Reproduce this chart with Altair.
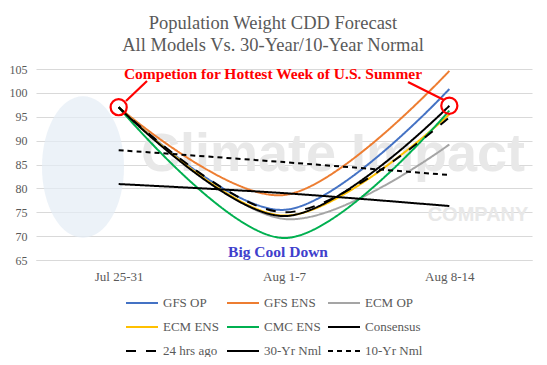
import altair as alt
import pandas as pd

weeks = ["Jul 25-31", "Aug 1-7", "Aug 8-14"]
series_names = ["GFS OP", "GFS ENS", "ECM OP", "ECM ENS", "CMC ENS",
                "Consensus", "24 hrs ago", "30-Yr Nml", "10-Yr Nml"]
gfs_op = [97.0, 75.5, 100.8]
gfs_ens = [97.0, 78.6, 104.6]
ecm_op = [97.0, 73.6, 89.2]
ecm_ens = [97.0, 74.3, 95.5]
cmc_ens = [97.0, 69.6, 96.3]
consensus = [97.0, 74.2, 97.3]
hrs_24 = [97.0, 75.0, 94.9]
nml_30 = [80.9, 79.0, 76.3]
nml_10 = [88.0, 85.5, 82.8]
y_ticks = [65, 70, 75, 80, 85, 90, 95, 100, 105]

values = [gfs_op, gfs_ens, ecm_op, ecm_ens, cmc_ens, consensus, hrs_24, nml_30, nml_10]
colors = ["#4472C4", "#ED7D31", "#A5A5A5", "#FFC000", "#00B050",
          "#000000", "#000000", "#000000", "#000000"]
widths = [2, 2, 3.5, 2, 2, 4.5, 4.5, 1.5, 1.5]
dashes = [[1, 0], [1, 0], [1, 0], [1, 0], [1, 0], [1, 0], [10, 10], [1, 0], [5, 4]]

rows = []
for name, vals in zip(series_names, values):
    for w, v in zip(weeks, vals):
        rows.append({"week": w, "series": name, "cdd": v})
df = pd.DataFrame(rows)

circle_df = pd.DataFrame({"week": [weeks[0], weeks[-1]],
                          "cdd": [consensus[0], consensus[-1]]})

W, H = 496, 191
SERIF = "Liberation Serif"
GREY = "#595959"

x_axis = alt.Axis(title=None, ticks=False, labelAngle=0, labelFont=SERIF,
                  labelFontSize=13, labelColor=GREY, labelPadding=10,
                  domainColor="#D9D9D9", grid=False)
y_axis = alt.Axis(title=None, values=y_ticks, ticks=False,
                  domain=False, labelFont=SERIF, labelFontSize=12,
                  labelColor=GREY, labelPadding=9, gridColor="#D9D9D9",
                  labelOverlap=False, tickCount=9)
x_scale = alt.Scale(type="point", padding=0.5)
y_scale = alt.Scale(domain=[65, 105], nice=False, zero=False)

legend = alt.Legend(orient="none", legendX=89, legendY=217, columns=3, title=None,
                    direction="horizontal",
                    symbolType="stroke", symbolSize=1024, labelFont=SERIF,
                    labelFontSize=13, labelColor=GREY, labelOffset=4,
                    columnPadding=2, rowPadding=-13, padding=0, gridAlign="all")

lines = alt.Chart(df).mark_line(interpolate="cardinal", tension=0).encode(
    x=alt.X("week:N", sort=weeks, scale=x_scale, axis=x_axis),
    y=alt.Y("cdd:Q", scale=y_scale, axis=y_axis),
    color=alt.Color("series:N", sort=series_names,
                    scale=alt.Scale(domain=series_names, range=colors), legend=legend),
    strokeWidth=alt.StrokeWidth("series:N", sort=series_names,
                                scale=alt.Scale(domain=series_names, range=widths), legend=legend),
    strokeDash=alt.StrokeDash("series:N", sort=series_names,
                              scale=alt.Scale(domain=series_names, range=dashes), legend=legend),
    order=alt.Order("week_idx:Q"),
).transform_calculate(
    week_idx="indexof(['Jul 25-31','Aug 1-7','Aug 8-14'], datum.week)"
)

# watermark (drawn behind the data)
wm_globe = alt.Chart(circle_df.head(1)).mark_point(
    shape="M0,-1 A0.58,1 0 1,1 0,1 A0.58,1 0 1,1 0,-1 Z",
    filled=True, color="#e4edf5", opacity=0.7, size=20000
).encode(x=alt.value(47), y=alt.value(98))
wm_text = alt.Chart(circle_df.head(1)).mark_text(
    text="Climate Impact", font="Liberation Sans", fontSize=54, fontWeight="bold",
    color="#e8e8e8", align="center", baseline="middle"
).encode(x=alt.value(297), y=alt.value(86))
wm_company = alt.Chart(circle_df.head(1)).mark_text(
    text="COMPANY", font="Liberation Sans", fontSize=20, fontWeight="bold",
    color="#e8e8e8", align="center", baseline="middle"
).encode(x=alt.value(442), y=alt.value(146))

circles = alt.Chart(circle_df).mark_point(
    shape="circle", size=260, filled=False, color="#FF0000", strokeWidth=2.2, opacity=1
).encode(x=alt.X("week:N", sort=weeks, scale=x_scale, axis=x_axis),
         y=alt.Y("cdd:Q", scale=y_scale, axis=y_axis))

arrow_l = alt.Chart(circle_df.head(1)).mark_rule(color="#FF0000", strokeWidth=2.2).encode(
    x=alt.value(111), y=alt.value(12), x2=alt.value(90), y2=alt.value(32))
arrow_r = alt.Chart(circle_df.head(1)).mark_rule(color="#FF0000", strokeWidth=2.2).encode(
    x=alt.value(372), y=alt.value(13), x2=alt.value(408), y2=alt.value(31))

red_text = alt.Chart(circle_df.head(1)).mark_text(
    text="Competion for Hottest Week of U.S. Summer", font=SERIF, fontSize=15.5,
    fontWeight="bold", color="#FF0000", align="center", baseline="middle"
).encode(x=alt.value(237), y=alt.value(5))
blue_text = alt.Chart(circle_df.head(1)).mark_text(
    text="Big Cool Down", font=SERIF, fontSize=15.5, fontWeight="bold",
    color="#4040CC", align="center", baseline="middle"
).encode(x=alt.value(242), y=alt.value(183))

title1 = alt.Chart(circle_df.head(1)).mark_text(
    text="Population Weight CDD Forecast", font=SERIF, fontSize=18.5, color=GREY,
    align="center", baseline="middle"
).encode(x=alt.value(237), y=alt.value(-46))
title2 = alt.Chart(circle_df.head(1)).mark_text(
    text="All  Models Vs. 30-Year/10-Year  Normal", font=SERIF, fontSize=18.5, color=GREY,
    align="center", baseline="middle"
).encode(x=alt.value(237), y=alt.value(-24))

chart = alt.layer(
    wm_globe, wm_text, wm_company, lines, circles, arrow_l, arrow_r,
    red_text, blue_text, title1, title2
).properties(
    width=W, height=H,
    autosize=alt.AutoSizeParams(type="none"),
    padding={"left": 28, "top": 61, "right": 7, "bottom": 97},
    background="white"
).configure_view(stroke=None).configure_axis(
    labelFont=SERIF
).configure_legend(
    labelFont=SERIF
)

chart.save("out.html", embed_options={"renderer": "svg", "actions": False})
